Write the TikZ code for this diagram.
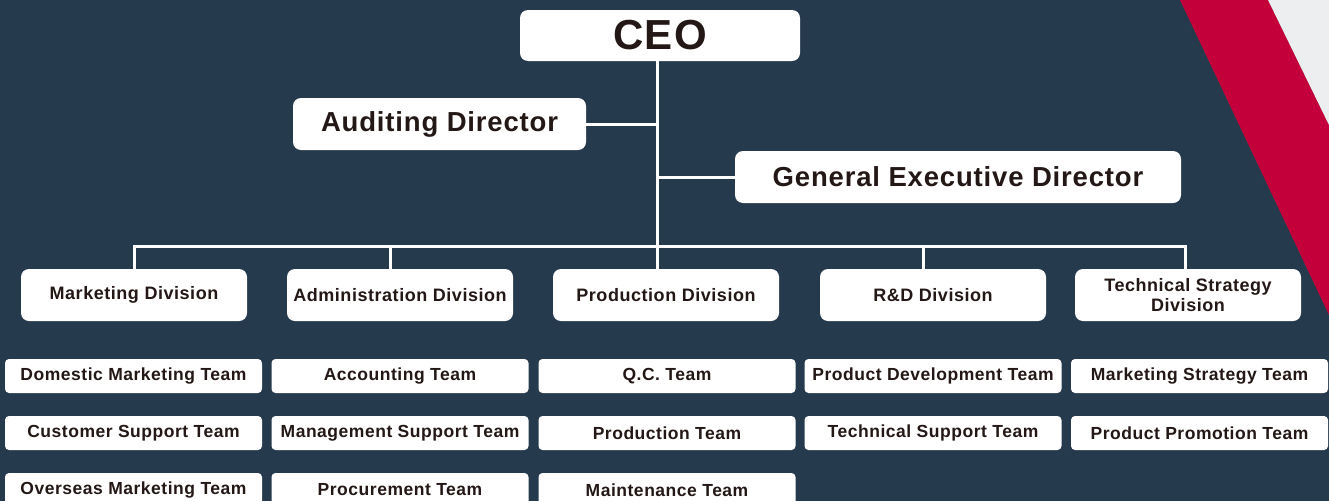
\documentclass[tikz,border=0pt]{standalone}
\usepackage{fontspec}
\setmainfont{Liberation Sans}[LetterSpace=3]
\usepackage{xcolor}
\definecolor{chartnavy}{RGB}{38,58,77}
\definecolor{stripered}{RGB}{196,0,58}
\definecolor{paperwhite}{RGB}{236,238,240}
\definecolor{inkdark}{RGB}{35,24,22}

\begin{document}
\begin{tikzpicture}[x=1pt, y=-1pt,
    box/.style={fill=white, rounded corners=8pt, text=inkdark, inner sep=0pt, align=center,
        font=\bfseries\fontsize{18}{20}\selectfont},
    head/.style={box, minimum height=52pt, font=\bfseries\fontsize{27.5}{30}\selectfont},
    division/.style={box, minimum width=226pt, minimum height=52pt},
    team/.style={box, rounded corners=4pt, minimum width=257pt, minimum height=34pt,
        font=\bfseries\fontsize{17.5}{20}\selectfont},
    wire/.style={draw=white, line width=3pt}]
    % Backdrop
    \clip (0,0) rectangle (1329,501);
    \fill[chartnavy] (0,0) rectangle (1329,501);
    \fill[stripered] (1180,0) -- (1268,0) -- (1329,125) -- (1329,315) -- cycle;
    \fill[paperwhite] (1268,0) -- (1329,0) -- (1329,125) -- cycle;

    % Top level
    \node[head, minimum width=280pt, minimum height=51pt, font=\bfseries\fontsize{42}{44}\selectfont] (ceo) at (660,35.5) {CEO};
    \node[head, minimum width=293pt] (aud) at (439.5,124) {Auditing Director};
    \node[head, minimum width=446pt] (ged) at (958,177) {General Executive Director};

    % Divisions
    \node[division] (mkt) at (134,295) {Marketing Division};
    \node[division] (adm) at (400,295) {Administration Division};
    \node[division] (prod) at (666,295) {Production Division};
    \node[division] (rd) at (933,295) {R\&D Division};
    \node[division] (tech) at (1188,295) {Technical Strategy\\Division};

    % Teams
    \node[team] (dom) at (133.5,376) {Domestic Marketing Team};
    \node[team] (cust) at (133.5,433) {Customer Support Team};
    \node[team] (over) at (133.5,490) {Overseas Marketing Team};
    \node[team] (acct) at (400,376) {Accounting Team};
    \node[team] (mgmt) at (400,433) {Management Support Team};
    \node[team] (proc) at (400,490) {Procurement Team};
    \node[team] (qc) at (667,376) {Q.C. Team};
    \node[team] (prodteam) at (667,433) {Production Team};
    \node[team] (maint) at (667,490) {Maintenance Team};
    \node[team] (pdev) at (933,376) {Product Development Team};
    \node[team] (tsup) at (933,433) {Technical Support Team};
    \node[team] (mstrat) at (1199.5,376) {Marketing Strategy Team};
    \node[team] (ppromo) at (1199.5,433) {Product Promotion Team};

    % Lines
    \coordinate (trunk) at (657,0);
    \coordinate (bus) at (657,246);
    \draw[wire] (ceo.south -| trunk) -- (prod.north -| trunk);
    \draw[wire] (aud.east) -- (aud.east -| trunk);
    \draw[wire] (ged.west -| trunk) -- (ged.west);
    \draw[wire] (mkt.north) |- (bus) -| ([xshift=-3pt]tech.north);
    \draw[wire] ([xshift=-10pt]adm.north) -- +(0,-23);
    \draw[wire] ([xshift=-10pt]rd.north) -- +(0,-23);
\end{tikzpicture}
\end{document}
